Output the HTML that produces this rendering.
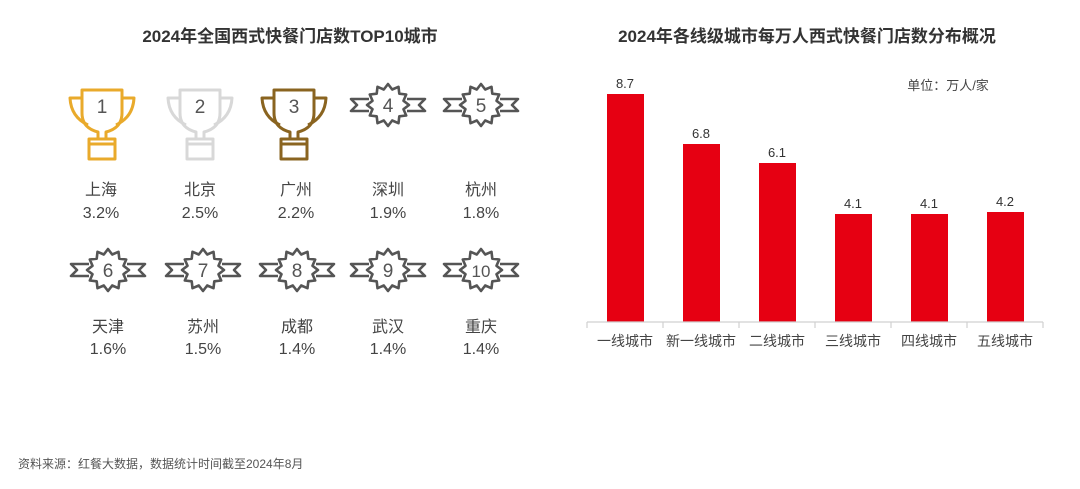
<!DOCTYPE html>
<html><head><meta charset="utf-8"><style>
body{margin:0;background:#fff;}
svg{display:block;font-family:"Liberation Sans","Noto Sans CJK SC",sans-serif;}
</style></head><body>
<svg width="1080" height="489" viewBox="0 0 1080 489">
<defs>
<g id="badge" fill="#fff" stroke="#555" stroke-width="2.6" stroke-linejoin="round">
<path d="M-19,-6 L-37,-6 L-31,0 L-37,6 L-19,6 M19,-6 L37,-6 L31,0 L37,6 L19,6" fill="none"/>
<polygon points="21,0 15.5,4.2 18.2,10.5 11.3,11.3 10.5,18.2 4.2,15.5 0,21 -4.2,15.5 -10.5,18.2 -11.3,11.3 -18.2,10.5 -15.5,4.2 -21,0 -15.5,-4.2 -18.2,-10.5 -11.3,-11.3 -10.5,-18.2 -4.2,-15.5 0,-21 4.2,-15.5 10.5,-18.2 11.3,-11.3 18.2,-10.5 15.5,-4.2"/>
</g>
<g id="trophy" fill="none" stroke-width="3" stroke-linejoin="round">
<path d="M-20,-33 L20,-33 L20,-10 Q20,5 4,9 L4,16 L-4,16 L-4,9 Q-20,5 -20,-10 Z"/>
<path d="M-20,-25 L-32,-25 Q-31,-6 -14,2 M20,-25 L32,-25 Q31,-6 14,2"/>
<rect x="-13" y="16" width="26" height="20"/>
<line x1="-13" y1="21" x2="13" y2="21"/>
</g>
</defs>
<text x="290" y="42" font-size="17" font-weight="bold" fill="#333" text-anchor="middle">2024年全国西式快餐门店数TOP10城市</text>
<text x="807" y="42" font-size="17" font-weight="bold" fill="#333" text-anchor="middle">2024年各线级城市每万人西式快餐门店数分布概况</text>

<use href="#trophy" x="102" y="123" stroke="#e9aa2b"/>
<use href="#trophy" x="200" y="123" stroke="#d8d8d8"/>
<use href="#trophy" x="294" y="123" stroke="#8a6420"/>
<g font-size="19" fill="#555" text-anchor="middle">
<text x="102" y="113">1</text><text x="200" y="113">2</text><text x="294" y="113">3</text>
</g>
<use href="#badge" x="388" y="105"/><use href="#badge" x="481" y="105"/>
<use href="#badge" x="108" y="270"/><use href="#badge" x="203" y="270"/><use href="#badge" x="297" y="270"/>
<use href="#badge" x="388" y="270"/><use href="#badge" x="481" y="270"/>
<g font-size="19" fill="#555" text-anchor="middle">
<text x="388" y="112">4</text><text x="481" y="112">5</text>
<text x="108" y="277">6</text><text x="203" y="277">7</text><text x="297" y="277">8</text><text x="388" y="277">9</text><text x="481" y="277" font-size="17">10</text>
</g>
<g font-size="16" fill="#444" text-anchor="middle">
<text x="101" y="195">上海</text><text x="200" y="195">北京</text><text x="296" y="195">广州</text><text x="388" y="195">深圳</text><text x="481" y="195">杭州</text>
<text x="101" y="218">3.2%</text><text x="200" y="218">2.5%</text><text x="296" y="218">2.2%</text><text x="388" y="218">1.9%</text><text x="481" y="218">1.8%</text>
<text x="108" y="332">天津</text><text x="203" y="332">苏州</text><text x="297" y="332">成都</text><text x="388" y="332">武汉</text><text x="481" y="332">重庆</text>
<text x="108" y="354">1.6%</text><text x="203" y="354">1.5%</text><text x="297" y="354">1.4%</text><text x="388" y="354">1.4%</text><text x="481" y="354">1.4%</text>
</g>

<text x="948" y="90" font-size="13" fill="#444" text-anchor="middle">单位：万人/家</text>
<g fill="#e60012">
<rect x="607" y="94" width="37" height="228"/>
<rect x="683" y="144" width="37" height="178"/>
<rect x="759" y="163" width="37" height="159"/>
<rect x="835" y="214" width="37" height="108"/>
<rect x="911" y="214" width="37" height="108"/>
<rect x="987" y="212" width="37" height="110"/>
</g>
<g font-size="13" fill="#333" text-anchor="middle">
<text x="625" y="88">8.7</text><text x="701" y="138">6.8</text><text x="777" y="157">6.1</text>
<text x="853" y="208">4.1</text><text x="929" y="208">4.1</text><text x="1005" y="206">4.2</text>
</g>
<path d="M587,322 H1043 M587,322 V328 M663,322 V328 M739,322 V328 M815,322 V328 M891,322 V328 M967,322 V328 M1043,322 V328" stroke="#d0d0d0" stroke-width="1.2" fill="none"/>
<g font-size="14" fill="#444" text-anchor="middle">
<text x="625" y="346">一线城市</text><text x="701" y="346">新一线城市</text><text x="777" y="346">二线城市</text>
<text x="853" y="346">三线城市</text><text x="929" y="346">四线城市</text><text x="1005" y="346">五线城市</text>
</g>
<text x="18" y="468" font-size="12" fill="#555">资料来源：红餐大数据，数据统计时间截至2024年8月</text>
</svg>
</body></html>
